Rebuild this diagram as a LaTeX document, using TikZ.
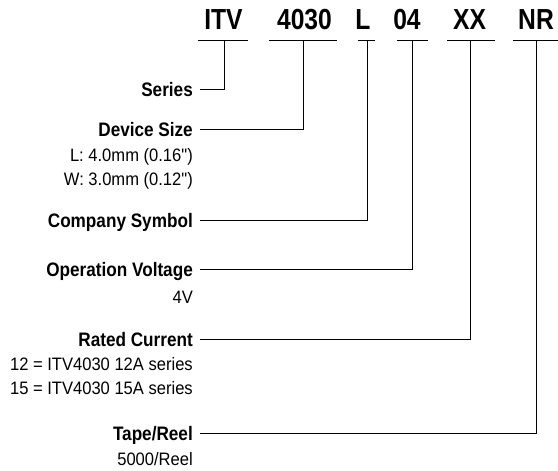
\documentclass[tikz,border=0pt]{standalone}
\usepackage{fontspec}
\setmainfont{Liberation Sans}
\newfontfamily\codefont[FakeStretch=0.85]{Liberation Sans}
\newfontfamily\lblfont[FakeStretch=0.88]{Liberation Sans}
\newfontfamily\notefont[FakeStretch=0.92]{Liberation Sans}
\usetikzlibrary{calc}

\begin{document}
\begin{tikzpicture}[x=1pt,y=-1pt,
    code/.style={font=\codefont\bfseries\fontsize{29}{29}\selectfont,inner sep=0pt,anchor=base},
    lbl/.style={font=\lblfont\bfseries\fontsize{19.5}{20}\selectfont,anchor=base east,
                text height=14pt,text depth=0pt,inner xsep=7pt,inner ysep=0pt},
    note/.style={font=\notefont\fontsize{18}{18}\selectfont,anchor=base east,inner sep=0pt},
    wire/.style={line width=0.8pt}]

    \useasboundingbox (0,0) rectangle (558,471);

    % Part number
    \node[code] (itv)  at (223.5,30) {ITV};
    \node[code] (size) at (304.5,30) {4030};
    \node[code] (sym)  at (363,30)   {L};
    \node[code] (volt) at (407,30)   {04};
    \node[code] (cur)  at (469.5,30) {XX};
    \node[code,anchor=base west] (reel) at (518,30) {NR};

    % Underlines and tap points
    \draw[wire] (198,40) -- (248,40);  \coordinate (itvtap)  at (224,40);
    \draw[wire] (269,40) -- (337,40);  \coordinate (sizetap) at (303,40);
    \draw[wire] (358,40) -- (375,40);  \coordinate (symtap)  at (367,40);
    \draw[wire] (397,40) -- (428,40);  \coordinate (volttap) at (412,40);
    \draw[wire] (447,40) -- (495,40);  \coordinate (curtap)  at (470,40);
    \draw[wire] (513,40) -- (558,40);  \coordinate (reeltap) at (536,40);

    % Field names
    \node[lbl] (series)  at (200,96)  {Series};
    \node[lbl] (device)  at (200,136) {Device Size};
    \node[lbl] (company) at (200,227) {Company Symbol};
    \node[lbl] (opvolt)  at (200,276) {Operation Voltage};
    \node[lbl] (rated)   at (200,346) {Rated Current};
    \node[lbl] (tape)    at (200,440) {Tape/Reel};

    % Notes
    \node[note] (devL)  at (193,161) {L: 4.0mm (0.16")};
    \node[note] (devW)  at (193,185) {W: 3.0mm (0.12")};
    \node[note] (v4)    at (193,303) {4V};
    \node[note] (r12)   at (193,370) {12 = ITV4030 12A series};
    \node[note] (r15)   at (193,394) {15 = ITV4030 15A series};
    \node[note] (r5000) at (193,465) {5000/Reel};

    % Connectors
    \draw[wire] (series.east)  -| (itvtap);
    \draw[wire] (device.east)  -| (sizetap);
    \draw[wire] (company.east) -| (symtap);
    \draw[wire] (opvolt.east)  -| (volttap);
    \draw[wire] (rated.east)   -| (curtap);
    \draw[wire] (tape.east)    -| (reeltap);

\end{tikzpicture}
\end{document}
